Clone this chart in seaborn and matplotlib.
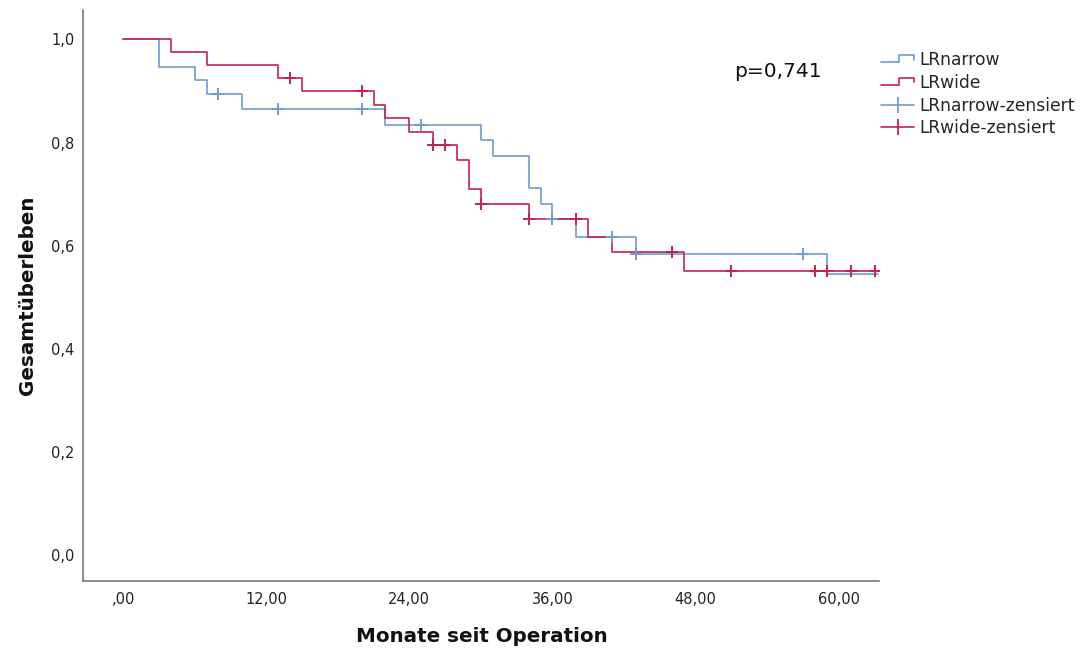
import numpy as np
import pandas as pd
import matplotlib
matplotlib.use("Agg")
import matplotlib.pyplot as plt
import seaborn as sns
from matplotlib.lines import Line2D
from matplotlib.legend_handler import HandlerBase

# ---------------- data ----------------
group_names = ["LRnarrow", "LRwide"]
censor_names = ["LRnarrow-zensiert", "LRwide-zensiert"]

# LRnarrow: event times (months) and survival after each event
narrow_times = [0, 3, 6, 7, 10, 22, 30, 31, 34, 35, 36, 38, 43, 59, 63.3]
narrow_surv = [1.0, 0.947, 0.921, 0.894, 0.865, 0.834, 0.805, 0.773, 0.711,
               0.681, 0.652, 0.617, 0.583, 0.545, 0.545]
narrow_censored = [8, 13, 20, 25, 36, 41, 43, 57]

# LRwide
wide_times = [0, 4, 7, 13, 15, 21, 22, 24, 26, 28, 29, 30, 34, 39, 41, 47, 63]
wide_surv = [1.0, 0.975, 0.951, 0.926, 0.900, 0.873, 0.847, 0.821, 0.795,
             0.766, 0.710, 0.681, 0.652, 0.617, 0.587, 0.551, 0.551]
wide_censored = [14, 20, 26, 27, 30, 34, 38, 46, 51, 58, 59, 61, 63]

x_ticks = [0, 12, 24, 36, 48, 60]
x_tick_labels = [",00", "12,00", "24,00", "36,00", "48,00", "60,00"]
y_ticks = [0.0, 0.2, 0.4, 0.6, 0.8, 1.0]
y_tick_labels = ["0,0", "0,2", "0,4", "0,6", "0,8", "1,0"]
p_text = "p=0,741"
x_label = "Monate seit Operation"
y_label = "Gesamtüberleben"

# ---------------- style ----------------
sns.set_theme(style="white")
plt.rcParams["font.family"] = ["DejaVu Sans"]

BLUE = "#6d9dd3"
RED = "#c4234e"
SPINE = "#6b6b6b"
LW = 1.2

W, H = 1091, 652
fig = plt.figure(figsize=(W / 100, H / 100), dpi=100)
ax_l, ax_r, ax_t, ax_b = 82.7, 879.3, 10, 581
ax = fig.add_axes([ax_l / W, 1 - ax_b / H, (ax_r - ax_l) / W, (ax_b - ax_t) / H])


def step_value(times, surv, t):
    idx = np.searchsorted(np.asarray(times), t, side="right") - 1
    return np.asarray(surv)[idx]


series = [
    (group_names[0], censor_names[0], narrow_times, narrow_surv, narrow_censored, BLUE),
    (group_names[1], censor_names[1], wide_times, wide_surv, wide_censored, RED),
]

for name, cname, times, surv, cens, col in series:
    df = pd.DataFrame({"t": times, "s": surv})
    sns.lineplot(data=df, x="t", y="s", ax=ax, color=col, linewidth=LW,
                 drawstyle="steps-post", estimator=None, sort=False)
    cdf = pd.DataFrame({"t": cens,
                        "s": [step_value(times, surv, c) for c in cens]})
    sns.scatterplot(data=cdf, x="t", y="s", ax=ax, marker="+", s=75,
                    color=col, linewidth=1.4, zorder=3)

ax.set_xlim(-3.38, 63.4)
ax.set_ylim(-0.050, 1.057)
ax.set_xticks(x_ticks)
ax.set_xticklabels(x_tick_labels)
ax.set_yticks(y_ticks)
ax.set_yticklabels(y_tick_labels)
ax.tick_params(axis="both", length=0, labelsize=10.5, colors="#222222")
ax.tick_params(axis="x", pad=8)
ax.tick_params(axis="y", pad=6)

for side in ["top", "right"]:
    ax.spines[side].set_visible(False)
for side in ["left", "bottom"]:
    ax.spines[side].set_color(SPINE)
    ax.spines[side].set_linewidth(1.1)

ax.set_xlabel(x_label, fontsize=14.3, fontweight="bold", color="#111111")
ax.set_ylabel(y_label, fontsize=14.3, fontweight="bold", color="#111111")
ax.xaxis.set_label_coords((481.7 - ax_l) / (ax_r - ax_l), (ax_b - 636) / (ax_b - ax_t))
ax.yaxis.set_label_coords((28 - ax_l) / (ax_r - ax_l), 0.5)
ax.xaxis.label.set_va("center")
ax.yaxis.label.set_va("center")

fig.text(778 / W, 1 - 71.7 / H, p_text, ha="center", va="center",
         fontsize=14.5, color="#111111")


class StepHandler(HandlerBase):
    def create_artists(self, legend, orig_handle, xdescent, ydescent,
                       width, height, fontsize, trans):
        x0 = -xdescent
        y0 = -ydescent
        xs = [x0, x0 + 0.55 * width, x0 + 0.55 * width, x0 + width, x0 + width]
        ys = [y0 + 0.25 * height, y0 + 0.25 * height, y0 + 0.85 * height,
              y0 + 0.85 * height, y0 + 0.45 * height]
        ln = Line2D(xs, ys, color=orig_handle.get_color(),
                    linewidth=orig_handle.get_linewidth())
        ln.set_transform(trans)
        return [ln]


h_narrow = Line2D([], [], color=BLUE, linewidth=1.2)
h_wide = Line2D([], [], color=RED, linewidth=1.2)
h_nc = Line2D([], [], color=BLUE, linewidth=1.2, marker="|", markersize=11,
              markeredgewidth=1.3)
h_wc = Line2D([], [], color=RED, linewidth=1.2, marker="|", markersize=11,
              markeredgewidth=1.3)

fig.legend([h_narrow, h_wide, h_nc, h_wc],
           group_names + censor_names,
           handler_map={h_narrow: StepHandler(), h_wide: StepHandler()},
           loc="upper left", bbox_to_anchor=(881 / W, 1 - 51 / H),
           frameon=False, fontsize=12.3, handlelength=1.95, handletextpad=0.3,
           labelspacing=0.28, borderpad=0, borderaxespad=0, numpoints=1)

fig.savefig("out.png", dpi=100)
